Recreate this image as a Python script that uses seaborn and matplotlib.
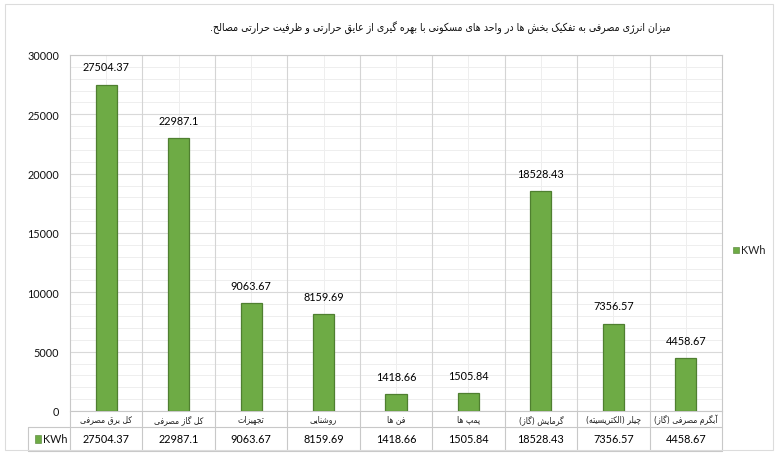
import numpy as np
import pandas as pd
import seaborn as sns
import matplotlib
matplotlib.use("Agg")
import matplotlib.pyplot as plt
from matplotlib.transforms import blended_transform_factory
from matplotlib.patches import Rectangle
from matplotlib.ticker import MultipleLocator

# ---------------- data ----------------
title = "میزان انرژی مصرفی به تفکیک بخش ها در واحد های مسکونی با بهره گیری از عایق حرارتی و ظرفیت حرارتی مصالح."
categories = ["کل برق مصرفی", "کل گاز مصرفی", "تجهیزات", "روشنایی", "فن ها",
              "پمپ ها", "گرمایش (گاز)", "چیلر (الکتریسیته)", "آبگرم مصرفی (گاز)"]
values = [27504.37, 22987.1, 9063.67, 8159.69, 1418.66, 1505.84, 18528.43, 7356.57, 4458.67]
value_labels = ["27504.37", "22987.1", "9063.67", "8159.69", "1418.66",
                "1505.84", "18528.43", "7356.57", "4458.67"]
series_name = "KWh"
y_ticks = [0, 5000, 10000, 15000, 20000, 25000, 30000]

# ------------- Persian shaping (presentation forms) -------------
FORMS = {
    'ا': ('\uFE8D', '\uFE8E', None, None),
    'آ': ('\uFE81', '\uFE82', None, None),
    'ب': ('\uFE8F', '\uFE90', '\uFE91', '\uFE92'),
    'پ': ('\uFB56', '\uFB57', '\uFB58', '\uFB59'),
    'ت': ('\uFE95', '\uFE96', '\uFE97', '\uFE98'),
    'ج': ('\uFE9D', '\uFE9E', '\uFE9F', '\uFEA0'),
    'چ': ('\uFB7A', '\uFB7B', '\uFB7C', '\uFB7D'),
    'ح': ('\uFEA1', '\uFEA2', '\uFEA3', '\uFEA4'),
    'خ': ('\uFEA5', '\uFEA6', '\uFEA7', '\uFEA8'),
    'د': ('\uFEA9', '\uFEAA', None, None),
    'ر': ('\uFEAD', '\uFEAE', None, None),
    'ز': ('\uFEAF', '\uFEB0', None, None),
    'ژ': ('\uFB8A', '\uFB8B', None, None),
    'س': ('\uFEB1', '\uFEB2', '\uFEB3', '\uFEB4'),
    'ش': ('\uFEB5', '\uFEB6', '\uFEB7', '\uFEB8'),
    'ص': ('\uFEB9', '\uFEBA', '\uFEBB', '\uFEBC'),
    'ظ': ('\uFEC5', '\uFEC6', '\uFEC7', '\uFEC8'),
    'ع': ('\uFEC9', '\uFECA', '\uFECB', '\uFECC'),
    'ف': ('\uFED1', '\uFED2', '\uFED3', '\uFED4'),
    'ق': ('\uFED5', '\uFED6', '\uFED7', '\uFED8'),
    'ک': ('\uFB8E', '\uFB8F', '\uFB90', '\uFB91'),
    'گ': ('\uFB92', '\uFB93', '\uFB94', '\uFB95'),
    'ل': ('\uFEDD', '\uFEDE', '\uFEDF', '\uFEE0'),
    'م': ('\uFEE1', '\uFEE2', '\uFEE3', '\uFEE4'),
    'ن': ('\uFEE5', '\uFEE6', '\uFEE7', '\uFEE8'),
    'و': ('\uFEED', '\uFEEE', None, None),
    'ه': ('\uFEE9', '\uFEEA', '\uFEEB', '\uFEEC'),
    'ی': ('\uFBFC', '\uFBFD', '\uFBFE', '\uFBFF'),
}


def shape(text):
    out = []
    for i, c in enumerate(text):
        if c not in FORMS:
            out.append(c)
            continue
        iso, fin, ini, med = FORMS[c]
        prev = text[i - 1] if i > 0 else None
        nxt = text[i + 1] if i + 1 < len(text) else None
        jp = prev in FORMS and FORMS[prev][2] is not None
        jn = nxt in FORMS and ini is not None
        if jp and jn:
            out.append(med)
        elif jp:
            out.append(fin)
        elif jn:
            out.append(ini)
        else:
            out.append(iso)
    s = ''.join(out)[::-1]
    return s.translate(str.maketrans('()', ')('))


# ---------------- style ----------------
sns.set_theme(style="white")
plt.rcParams['font.family'] = ['Lato', 'DejaVu Sans']

W, H = 778, 456
fig = plt.figure(figsize=(W / 100, H / 100), dpi=100)
fig.patch.set_facecolor('white')

L, R, T, B = 70, 722, 56, 412
ax = fig.add_axes([L / W, 1 - B / H, (R - L) / W, (B - T) / H])

bar_color = '#6EAB45'
edge_color = '#4F7F30'
df = pd.DataFrame({'cat': categories, 'val': values})
sns.barplot(data=df, x='cat', y='val', color=bar_color, saturation=1, width=0.29,
            edgecolor=edge_color, linewidth=0.9, ax=ax, zorder=3)

n = len(categories)
ax.set_xlim(-0.5, n - 0.5)
ax.set_ylim(0, 30000)
ax.set_yticks(y_ticks)
ax.set_yticklabels([str(t) for t in y_ticks], fontsize=7.8, color='#111111')
ax.yaxis.set_minor_locator(MultipleLocator(1000))
ax.set_xticks(np.arange(n))
ax.set_xticklabels([])
ax.tick_params(axis='both', which='both', length=0, pad=8)
ax.set_xlabel('')
ax.set_ylabel('')

# gridlines
ax.grid(which='major', axis='y', color='#d9d9d9', linewidth=0.8, zorder=0)
ax.grid(which='minor', axis='y', color='#eeeeee', linewidth=0.7, zorder=0)
for k in range(n):
    ax.axvline(k, color='#eeeeee', linewidth=0.7, zorder=0)
for k in range(1, n):
    ax.axvline(k - 0.5, color='#d4d4d4', linewidth=0.8, zorder=1)
ax.set_axisbelow(True)
for sp in ax.spines.values():
    sp.set_color('#c8c8c8')
    sp.set_linewidth(0.8)

# value labels
for i, (v, lab) in enumerate(zip(values, value_labels)):
    ax.annotate(lab, (i, v), xytext=(0, 9), textcoords='offset points',
                ha='center', va='bottom', fontsize=7.8, color='#000000')

# ---------------- data table ----------------
tr = blended_transform_factory(ax.transData, ax.transAxes)
axh = B - T
row1 = -(428 - B) / axh
row2 = -(452 - B) / axh
left_cell = (28 - L) / (R - L)
line_kw = dict(color='#c8c8c8', linewidth=0.8, clip_on=False)
for k in range(n + 1):
    ax.plot([k - 0.5, k - 0.5], [0, row2], transform=tr, **line_kw)
ax.plot([left_cell, 1], [row1, row1], transform=ax.transAxes, **line_kw)
ax.plot([left_cell, 1], [row2, row2], transform=ax.transAxes, **line_kw)
ax.plot([left_cell, left_cell], [row1, row2], transform=ax.transAxes, **line_kw)

for i, c in enumerate(categories):
    ax.text(i, row1 / 2, shape(c), transform=tr, ha='center', va='center',
            fontsize=6.2, family=['DejaVu Sans'], fontstretch='condensed',
            color='#222222', clip_on=False)
    ax.text(i, (row1 + row2) / 2, value_labels[i], transform=tr, ha='center',
            va='center', fontsize=7.8, color='#000000', clip_on=False)

# legend key inside table
ax.add_patch(Rectangle((left_cell + 0.011, (row1 + row2) / 2 - 0.011), 0.009, 0.022,
                       transform=ax.transAxes, facecolor=bar_color, edgecolor=edge_color,
                       linewidth=0.4, clip_on=False))
ax.text(left_cell + 0.023, (row1 + row2) / 2, series_name, transform=ax.transAxes,
        ha='left', va='center', fontsize=7.8, color='#111111', clip_on=False)

# right legend
fig.patches.append(Rectangle((733 / W, 1 - 254 / H), 6 / W, 6 / H, transform=fig.transFigure,
                             facecolor=bar_color, edgecolor=edge_color, linewidth=0.4))
fig.text(741 / W, 1 - 251 / H, series_name, ha='left', va='center', fontsize=7.8,
         color='#222222')

# title
fig.text(440 / W, 1 - 28 / H, shape(title), ha='center', va='center',
         fontsize=7.6, family=['DejaVu Sans'], fontstretch='condensed', color='#111111')

# outer border
fig.patches.append(Rectangle((5 / W, 5 / H), (W - 10) / W, (H - 10) / H,
                             transform=fig.transFigure, fill=False,
                             edgecolor='#dcdcdc', linewidth=0.8))

fig.savefig('out.png', dpi=100, facecolor='white')
